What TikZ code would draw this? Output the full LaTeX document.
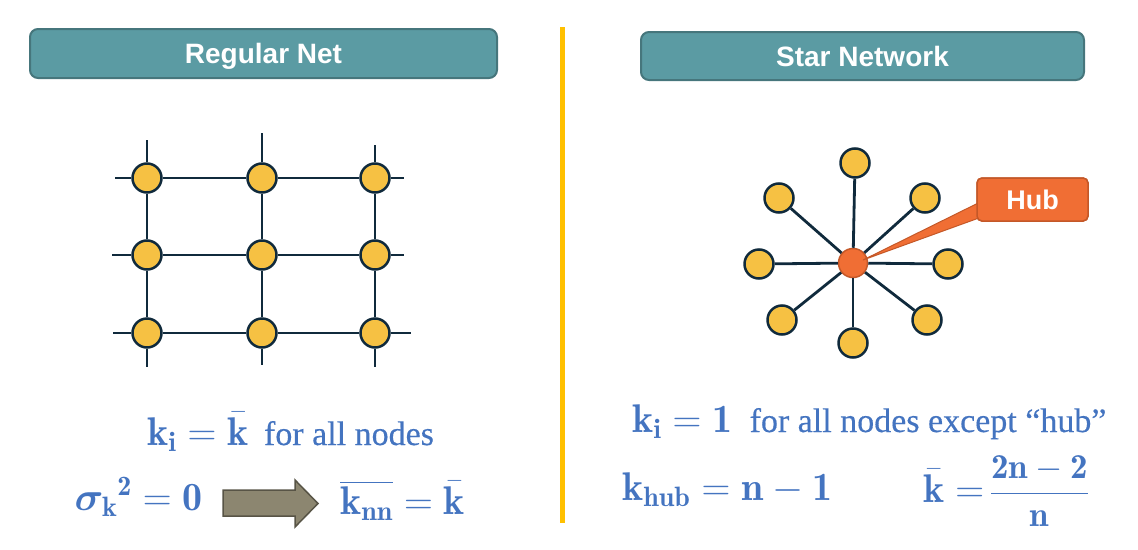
\RequirePackage{fix-cm}
\documentclass[tikz,border=0pt]{standalone}
\usepackage{amsmath}
\usepackage{bm}
\usepackage{fontspec}
\usepackage{tikz}
\newfontfamily\headfont{Liberation Sans}
\newfontfamily\bodyfont[FakeBold=0.4]{Liberation Serif}
\definecolor{titlefill}{RGB}{91,155,163}
\definecolor{titleline}{RGB}{70,118,124}
\definecolor{dotfill}{RGB}{246,193,67}
\definecolor{edgecol}{RGB}{16,42,60}
\definecolor{hubfill}{RGB}{240,110,52}
\definecolor{hubline}{RGB}{196,88,40}
\definecolor{textblue}{RGB}{68,116,192}
\definecolor{divcol}{RGB}{255,192,0}
\definecolor{arrowfill}{RGB}{140,134,112}
\definecolor{arrowline}{RGB}{88,84,70}
\newcommand{\bigmath}[1]{{\fontsize{40}{44}\selectfont$#1$}}
\tikzstyle{title}=[draw=titleline, line width=2pt, fill=titlefill, rounded corners=8pt, text=white, text depth=0pt, font=\headfont\bfseries\fontsize{28}{32}\selectfont]
\tikzstyle{dot}=[circle, draw=edgecol, line width=2.5pt, fill=dotfill, minimum size=29pt, inner sep=0pt]
\tikzstyle{hubdot}=[dot, draw=hubline, line width=1.5pt, fill=hubfill]
\tikzstyle{link}=[draw=edgecol, line width=2.8pt]
\tikzstyle{lbl}=[inner sep=0pt, anchor=base west, text=textblue, font=\bodyfont\fontsize{34}{40}\selectfont]
\tikzstyle{callout}=[fill=hubfill, draw=hubline, line width=1.5pt, rounded corners=5pt, text=white, font=\headfont\bfseries\fontsize{27}{32}\selectfont, minimum width=111pt, minimum height=43pt]
\tikzstyle{bigarrow}=[draw=arrowline, line width=1.5pt, fill=arrowfill, line join=miter]

\begin{document}
\begin{tikzpicture}[x=1pt,y=-1pt]
    \useasboundingbox (0,0) rectangle (1138,549);
    % titles and divider
    \node [title, minimum width=467pt, minimum height=49pt] (regular) at (263.5,53.5) {Regular Net};
    \node [title, minimum width=443pt, minimum height=48pt] (starnet) at (862.5,56) {Star Network};
    \coordinate (dtop) at (562,27);
    \coordinate (dbot) at (562,523);
    \draw [divcol, line width=5pt] (dtop) -- (dbot);

    % regular net
    \node [dot] (n11) at (147,178) {};
    \node [dot] (n12) [right of=n11, node distance=115pt] {};
    \node [dot] (n13) [right of=n12, node distance=113pt] {};
    \node [dot] (n21) [below of=n11, node distance=77pt] {};
    \node [dot] (n22) [right of=n21, node distance=115pt] {};
    \node [dot] (n23) [right of=n22, node distance=113pt] {};
    \node [dot] (n31) [below of=n21, node distance=78pt] {};
    \node [dot] (n32) [right of=n31, node distance=115pt] {};
    \node [dot] (n33) [right of=n32, node distance=113pt] {};
    \coordinate (t1) at (147,140);
    \coordinate (t2) at (262,133);
    \coordinate (t3) at (375,145);
    \coordinate (b1) at (147,367);
    \coordinate (b2) at (262,365);
    \coordinate (b3) at (375,367);
    \coordinate (l1) at (115,178);
    \coordinate (l2) at (112,255);
    \coordinate (l3) at (113,333);
    \coordinate (r1) at (404,178);
    \coordinate (r2) at (404,255);
    \coordinate (r3) at (411,333);
    \draw [link] (l1) -- (n11) -- (n12) -- (n13) -- (r1);
    \draw [link] (l2) -- (n21) -- (n22) -- (n23) -- (r2);
    \draw [link] (l3) -- (n31) -- (n32) -- (n33) -- (r3);
    \draw [link] (t1) -- (n11) -- (n21) -- (n31) -- (b1);
    \draw [link] (t2) -- (n12) -- (n22) -- (n32) -- (b2);
    \draw [link] (t3) -- (n13) -- (n23) -- (n33) -- (b3);

    % star network
    \node [hubdot] (hub) at (853,263) {};
    \node [dot] (ln) at (855,163) {};
    \node [dot] (lne) at (925,198) {};
    \node [dot] (le) at (948,264) {};
    \node [dot] (lse) at (927,320) {};
    \node [dot] (ls) at (853,343) {};
    \node [dot] (lsw) at (782,320) {};
    \node [dot] (lw) at (759,264) {};
    \node [dot] (lnw) at (779,198) {};
    \draw [link] (hub) -- (ln);
    \draw [link] (hub) -- (lne);
    \draw [link] (hub) -- (le);
    \draw [link] (hub) -- (lse);
    \draw [link] (hub) -- (ls);
    \draw [link] (hub) -- (lsw);
    \draw [link] (hub) -- (lw);
    \draw [link] (hub) -- (lnw);
    \node [callout] (hubbox) at (1032.5,199.5) {};
    \fill [hubfill, draw=hubline, line width=1pt] ([xshift=4pt,yshift=-2.5pt]hubbox.west) -- ([xshift=10pt,yshift=3pt]hub.center) -- ([xshift=4pt,yshift=-18pt]hubbox.west) -- cycle;
    \node [callout] at (hubbox) {Hub};

    % formulas
    \node [lbl] (kireg) at (147,445) {\bigmath{\mathbf{k_i}=\bar{\mathbf{k}}}\hspace{0.45em}for all nodes};
    \node [lbl, anchor=base east] (sigma) at (203,510) {\bigmath{\bm\sigma_{\mathbf k}{}^{\mathbf 2}=\mathbf 0}};
    \filldraw [bigarrow] (223,490) -- (295,490) -- (295,480) -- (318,503.5) -- (295,527) -- (295,516) -- (223,516) -- cycle;
    \node [lbl] (knn) at (340,514) {\bigmath{\overline{\mathbf k_{\mathbf{nn}}}=\bar{\mathbf k}}};
    \node [lbl] (kistar) at (632,432) {\bigmath{\mathbf{k_i}=\mathbf 1}\hspace{0.5em}for all nodes except “hub”};
    \node [lbl] (khub) at (622,500) {\bigmath{\mathbf{k_{hub}}=\mathbf n-\mathbf 1}};
    \node [lbl] (kbar) at (923,502) {\bigmath{\bar{\mathbf k}=}\,{\fontsize{35}{40}\selectfont$\dfrac{\mathbf{2n-2}}{\mathbf n}$}};
\end{tikzpicture}
\end{document}
